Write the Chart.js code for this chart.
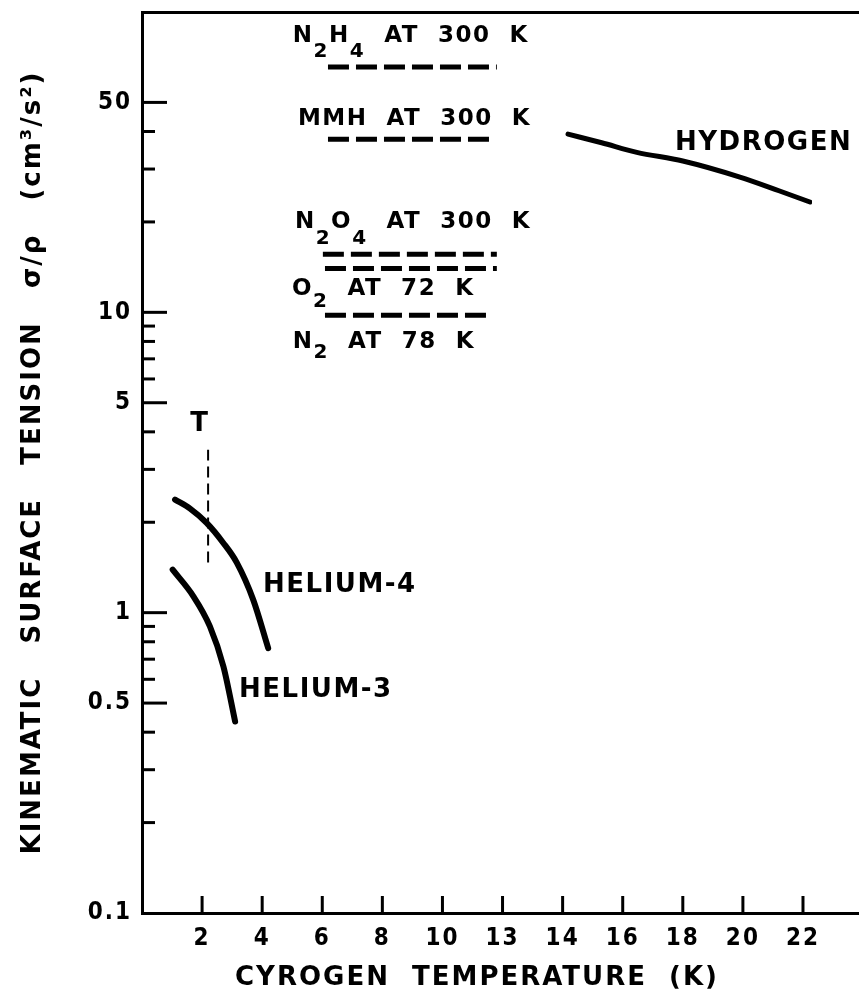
<!DOCTYPE html>
<html><head><meta charset="utf-8">
<script src="https://cdn.jsdelivr.net/npm/chart.js@4/dist/chart.umd.min.js"></script>
<style>html,body{margin:0;padding:0;background:#fff}#wrap{width:859px;height:994px;position:relative}</style>
</head><body><div id="wrap"><canvas id="c"></canvas></div>
<script>
// ---------------- data ----------------
const xTickValues = [2, 4, 6, 8, 10, 12, 14, 16, 18, 20, 22];
const xTickLabels = ['2', '4', '6', '8', '10', '13', '14', '16', '18', '20', '22'];
const yTickValues = [0.1, 0.2, 0.3, 0.4, 0.5, 0.6, 0.7, 0.8, 0.9, 1, 2, 3, 4, 5, 6, 7, 8, 9, 10, 20, 30, 40, 50];
const yTickLabels = [0.1, 0.5, 1, 5, 10, 50];

const hydrogenT = [14.18, 15.3, 16.47, 18.0, 19.9, 21.2, 22.23];
const hydrogenV = [39.2, 36.7, 34.1, 31.9, 28.2, 25.4, 23.3];

const helium4T = [1.10, 1.60, 2.15, 2.70, 3.15, 3.70, 4.20];
const helium4V = [2.38, 2.22, 1.99, 1.71, 1.47, 1.105, 0.762];

const helium3T = [1.02, 1.71, 2.26, 2.71, 3.10];
const helium3V = [1.39, 1.134, 0.90, 0.662, 0.434];

const lambdaT = [2.2, 2.2];
const lambdaV = [1.47, 3.49];

const n2h4T = [6.19, 11.81];  const n2h4V = [65.6, 65.6];
const mmhT  = [6.19, 11.65];  const mmhV  = [37.7, 37.7];
const n2o4T = [6.02, 11.81];  const n2o4V = [15.6, 15.6];
const o2T   = [6.09, 11.81];  const o2V   = [14.0, 14.0];
const n2T   = [6.09, 11.65];  const n2V   = [9.77, 9.77];

// ---------------- helpers ----------------
const pts = (xs, ys) => xs.map((x, i) => ({x: x, y: ys[i]}));
const FAM = '"DejaVu Sans", "Liberation Sans", sans-serif';
const TICKFAM = '"DejaVu Sans Condensed", "DejaVu Sans", sans-serif';

const curveStyle = (w) => ({borderColor: '#000', borderWidth: w, pointRadius: 0, tension: 0.4,
  cubicInterpolationMode: 'monotone', borderCapStyle: 'round', fill: false});
const dashStyle = {borderColor: '#000', borderWidth: 5, pointRadius: 0, borderDash: [21, 7], fill: false, borderCapStyle: 'butt'};

// text annotations (position in data units)
const annotations = [
  {x: 1.93, y: 4.33, size: 26, align: 'center', parts: [['T']]},
  {x: 4.03, y: 1.26, size: 26, parts: [['HELIUM-4']]},
  {x: 3.23, y: 0.562, size: 26, parts: [['HELIUM-3']]},
  {x: 17.74, y: 37.2, size: 26, parts: [['HYDROGEN']]},
  {x: 5.02, y: 84.5, size: 23, sub: 14.6, parts: [['N'], ['2', 1], ['H'], ['4', 1], ['  AT  300  K']]},
  {x: 5.19, y: 44.7, size: 23, parts: [['MMH  AT  300  K']]},
  {x: 5.09, y: 20.4, size: 23, sub: 16, parts: [['N'], ['2', 1], ['O'], ['4', 1], ['  AT  300  K']]},
  {x: 4.99, y: 12.2, size: 23, sub: 12.6, parts: [['O'], ['2', 1], ['  AT  72  K']]},
  {x: 5.02, y: 8.13, size: 23, sub: 10.5, parts: [['N'], ['2', 1], ['  AT  78  K']]}
];

const spacingPlugin = {
  id: 'spacing',
  beforeUpdate(chart) { chart.ctx.letterSpacing = '2px'; },
  beforeDraw(chart) { chart.ctx.letterSpacing = '2px'; }
};

const frameAndTicks = {
  id: 'frameAndTicks',
  afterDraw(chart) {
    const {ctx, scales: {x, y}, chartArea: a} = chart;
    ctx.save();
    ctx.strokeStyle = '#000';
    ctx.lineWidth = 3;
    y.ticks.forEach(t => {
      if (t.value <= y.min || t.value >= y.max) return;
      const py = y.getPixelForValue(t.value);
      const len = yTickLabels.includes(t.value) ? 25 : 13;
      ctx.beginPath(); ctx.moveTo(a.left, py); ctx.lineTo(a.left + len, py); ctx.stroke();
    });
    x.ticks.forEach(t => {
      const px = x.getPixelForValue(t.value);
      ctx.beginPath(); ctx.moveTo(px, a.bottom); ctx.lineTo(px, a.bottom - 17); ctx.stroke();
    });
    // top frame line, and the bottom line continuing to the right edge
    const ty = Math.round(a.top) + 0.5, by = Math.round(a.bottom) + 0.5;
    ctx.beginPath(); ctx.moveTo(a.left - 1, ty); ctx.lineTo(chart.width, ty); ctx.stroke();
    ctx.beginPath(); ctx.moveTo(a.right - 2, by); ctx.lineTo(chart.width, by); ctx.stroke();
    ctx.restore();
  }
};

const textPlugin = {
  id: 'texts',
  afterDraw(chart) {
    const {ctx, scales: {x, y}} = chart;
    ctx.save();
    ctx.fillStyle = '#000';
    ctx.letterSpacing = '1.5px';
    ctx.textBaseline = 'alphabetic';
    ctx.textAlign = 'left';
    annotations.forEach(an => {
      const px = x.getPixelForValue(an.x);
      const py = y.getPixelForValue(an.y);
      const base = py + an.size * 0.729 / 2;
      const subSize = Math.round(an.size * 0.87);
      const fontOf = p => 'bold ' + (p[1] ? subSize : an.size) + 'px ' + FAM;
      let total = 0;
      an.parts.forEach(p => { ctx.font = fontOf(p); total += ctx.measureText(p[0]).width; });
      let cx = an.align === 'center' ? px - total / 2 : px;
      an.parts.forEach(p => {
        ctx.font = fontOf(p);
        ctx.fillText(p[0], cx, p[1] ? base + an.sub : base);
        cx += ctx.measureText(p[0]).width;
      });
    });
    ctx.restore();
  }
};

new Chart(document.getElementById('c'), {
  type: 'line',
  data: {
    datasets: [
      Object.assign({label: 'Hydrogen', data: pts(hydrogenT, hydrogenV)}, curveStyle(5)),
      Object.assign({label: 'Helium-4', data: pts(helium4T, helium4V)}, curveStyle(6)),
      Object.assign({label: 'Helium-3', data: pts(helium3T, helium3V)}, curveStyle(6)),
      {label: 'Lambda point', data: pts(lambdaT, lambdaV), borderColor: '#000', borderWidth: 2, borderDash: [11, 6], pointRadius: 0},
      Object.assign({label: 'N2H4 at 300 K', data: pts(n2h4T, n2h4V)}, dashStyle),
      Object.assign({label: 'MMH at 300 K', data: pts(mmhT, mmhV)}, dashStyle),
      Object.assign({label: 'N2O4 at 300 K', data: pts(n2o4T, n2o4V)}, dashStyle),
      Object.assign({label: 'O2 at 72 K', data: pts(o2T, o2V)}, dashStyle),
      Object.assign({label: 'N2 at 78 K', data: pts(n2T, n2V)}, dashStyle)
    ]
  },
  options: {
    responsive: true,
    maintainAspectRatio: false,
    animation: false,
    devicePixelRatio: 1,
    layout: {padding: {top: 12, right: 47, left: 0, bottom: 0}},
    plugins: {legend: {display: false}, tooltip: {enabled: false}},
    scales: {
      x: {
        type: 'linear', position: 'bottom', min: 0, max: 22.3,
        afterBuildTicks: s => { s.ticks = xTickValues.map(v => ({value: v})); },
        afterFit: s => { s.height = 81; s.paddingLeft = 0; s.paddingRight = 0; },
        ticks: {
          autoSkip: false, maxRotation: 0, padding: 11, color: '#000',
          font: {family: TICKFAM, size: 24, weight: 'bold'},
          callback: (v) => { const i = xTickValues.indexOf(v); return i >= 0 ? xTickLabels[i] : ''; }
        },
        grid: {display: false, drawTicks: false},
        border: {display: true, color: '#000', width: 3},
        title: {display: true, text: 'CYROGEN  TEMPERATURE  (K)', color: '#000',
          font: {family: FAM, size: 26, weight: 'bold', lineHeight: 1.2}, padding: {top: 0, bottom: 0}}
      },
      y: {
        type: 'logarithmic', position: 'left', min: 0.1, max: 100,
        afterBuildTicks: s => { s.ticks = yTickValues.map(v => ({value: v})); },
        afterFit: s => { s.width = 142; s.paddingTop = 0; s.paddingBottom = 0; },
        ticks: {
          autoSkip: false, padding: 10, color: '#000',
          font: {family: TICKFAM, size: 24, weight: 'bold'},
          callback: (v) => yTickLabels.includes(v) ? String(v) : ''
        },
        grid: {display: false, drawTicks: false},
        border: {display: true, color: '#000', width: 3},
        title: {display: true, text: 'KINEMATIC   SURFACE   TENSION   σ/ρ   (cm³/s²)', color: '#000',
          font: {family: FAM, size: 26, weight: 'bold', lineHeight: 1.2}, padding: {top: 18, bottom: 0}}
      }
    }
  },
  plugins: [spacingPlugin, frameAndTicks, textPlugin]
});
</script>
</body></html>
